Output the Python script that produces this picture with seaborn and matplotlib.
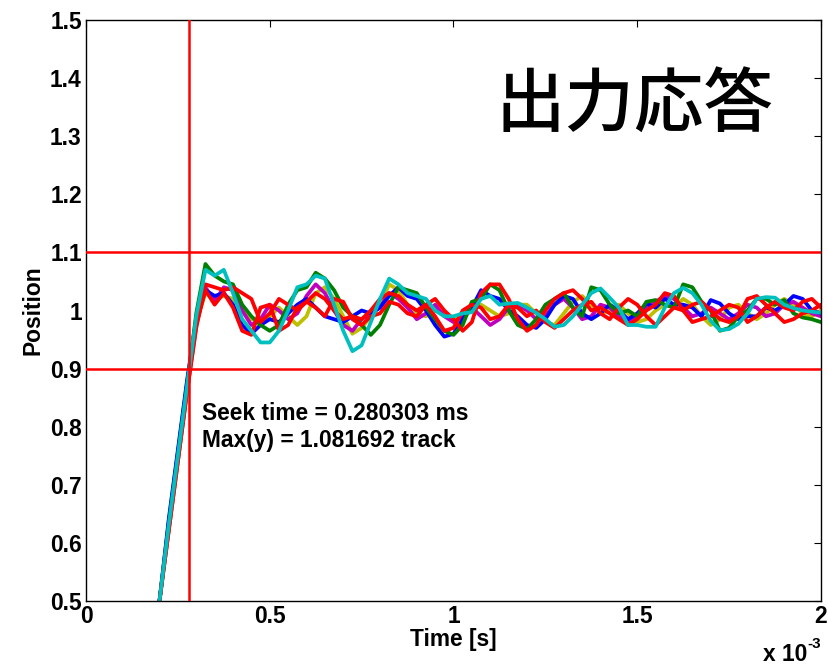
import numpy as np
import pandas as pd
import matplotlib
matplotlib.use("Agg")
import matplotlib.pyplot as plt
import seaborn as sns

# time grid in ms
t_ms = [round(0.2 + 0.025 * i, 3) for i in range(73)]

cyan_run = [0.50, 0.63, 0.75, 0.87, 0.99, 1.07, 1.06, 1.07, 1.03, 0.985,
            0.965, 0.945, 0.945, 0.965, 1.00, 1.04, 1.045, 1.06, 1.055, 1.01,
            0.965, 0.93, 0.94, 0.98, 1.02, 1.055, 1.045, 1.03, 1.025, 1.02,
            1.00, 0.99, 0.99, 0.995, 0.997, 1.02, 1.025, 1.01, 1.012, 1.013,
            1.005, 0.996, 0.985, 0.972, 0.975, 0.99, 1.01, 1.03, 1.038, 1.022,
            1.005, 0.975, 0.975, 0.972, 0.972, 1.005, 1.03, 1.039, 1.03, 1.01,
            0.982, 0.966, 0.968, 0.977, 0.995, 1.02, 1.023, 1.022, 1.01, 1.004,
            1.0, 0.998, 0.996]
green_run = [0.50, 0.63, 0.75, 0.87, 0.995, 1.08, 1.06, 1.05, 1.045, 1.01,
             0.99, 0.975, 0.965, 0.975, 1.01, 1.035, 1.04, 1.065, 1.055, 1.035,
             1.005, 0.99, 0.975, 0.958, 0.975, 1.01, 1.04, 1.035, 1.03, 1.005,
             0.985, 0.965, 0.958, 0.975, 1.015, 1.02, 1.045, 1.035, 1.0, 0.975,
             0.968, 0.985, 1.01, 1.02, 1.03, 1.005, 0.99, 1.04, 1.035, 1.01,
             0.995, 1.0, 0.99, 1.015, 1.018, 1.01, 1.005, 1.045, 1.04, 1.015,
             1.0, 0.965, 0.97, 0.99, 1.0, 1.02, 1.02, 1.01, 1.018, 0.995,
             0.988, 0.985, 0.98]
blue_run = [0.50, 0.64, 0.76, 0.88, 0.985, 1.035, 1.025, 1.03, 1.01, 0.975,
            0.96, 0.975, 0.985, 0.98, 0.995, 1.01, 1.02, 1.005, 0.99, 0.985,
            0.98, 0.99, 1.0, 0.995, 1.005, 1.025, 1.04, 1.025, 1.02, 1.0,
            0.975, 0.955, 0.96, 0.985, 1.005, 1.035, 1.025, 1.02, 1.0, 0.99,
            0.975, 0.97, 0.985, 1.01, 1.025, 1.02, 0.995, 0.985, 0.995, 1.01,
            1.0, 0.985, 0.995, 1.012, 1.005, 1.02, 1.01, 1.01, 1.005, 0.99,
            1.018, 1.012, 0.995, 0.985, 0.99, 0.99, 1.005, 1.0, 1.01, 1.025,
            1.02, 1.0, 0.995]
redA_run = [0.50, 0.62, 0.74, 0.86, 0.97, 1.045, 1.04, 1.035, 1.04, 1.03,
            1.02, 0.98, 0.995, 1.02, 1.01, 1.0, 1.015, 1.03, 1.02, 1.0,
            0.985, 0.99, 0.985, 1.0, 1.02, 1.03, 1.025, 1.01, 1.0, 1.01,
            1.02, 1.0, 0.985, 0.965, 0.98, 1.03, 1.045, 1.045, 1.02, 0.985,
            0.965, 0.975, 1.0, 1.02, 1.03, 1.035, 1.02, 1.0, 1.005, 0.995,
            0.985, 0.975, 0.985, 1.0, 1.01, 1.03, 1.025, 1.0, 0.98, 0.985,
            0.99, 1.0, 1.01, 1.005, 0.98, 0.99, 1.005, 1.015, 1.005, 1.0,
            1.015, 1.02, 1.005]
redB_run = [0.50, 0.62, 0.74, 0.86, 0.975, 1.035, 1.01, 1.03, 1.005, 0.965,
            0.958, 1.005, 1.01, 0.965, 0.975, 1.005, 1.015, 1.005, 0.99, 1.02,
            1.015, 0.985, 0.975, 0.99, 0.995, 1.015, 1.01, 0.995, 0.99, 1.01,
            0.99, 0.965, 0.97, 1.0, 1.01, 1.005, 0.985, 0.99, 1.01, 1.005,
            0.99, 1.0, 0.98, 0.97, 0.985, 1.0, 1.01, 1.015, 0.995, 0.985,
            1.005, 1.02, 1.01, 0.99, 0.975, 0.99, 1.005, 1.0, 1.01, 1.015,
            1.0, 0.985, 0.98, 0.99, 1.02, 1.025, 1.01, 0.995, 0.98, 0.985,
            0.995, 1.0, 1.01]
magenta_run = [0.50, 0.635, 0.755, 0.875, 0.985, 1.04, 1.015, 1.04, 1.035, 1.0,
               0.975, 0.985, 1.01, 1.0, 0.985, 0.995, 1.025, 1.045, 1.03, 1.0,
               0.975, 0.965, 0.985, 0.995, 1.005, 1.03, 1.02, 1.005, 0.985, 0.995,
               1.01, 0.99, 0.98, 0.99, 1.005, 0.99, 0.975, 0.985, 1.005, 1.01,
               1.0, 0.985, 0.99, 1.01, 1.02, 1.005, 0.985, 0.99, 1.01, 1.005,
               0.99, 0.98, 0.99, 1.005, 1.015, 1.025, 1.02, 1.005, 0.99, 0.995,
               1.005, 0.995, 0.985, 0.995, 1.01, 1.005, 0.99, 0.995, 1.01, 1.015,
               1.005, 0.995, 0.99]
olive_run = [0.50, 0.63, 0.75, 0.87, 0.98, 1.03, 1.02, 1.025, 1.02, 1.0,
             0.985, 0.98, 0.99, 1.005, 0.99, 0.975, 0.99, 1.03, 1.04, 1.02,
             0.99, 0.96, 0.97, 0.99, 1.01, 1.045, 1.035, 1.01, 0.995, 0.99,
             1.0, 0.995, 0.985, 0.99, 1.005, 1.01, 1.0, 0.99, 0.995, 1.01,
             1.01, 0.995, 0.98, 0.975, 0.995, 1.015, 1.025, 1.01, 0.995, 1.0,
             1.01, 0.995, 0.98, 0.985, 1.0, 1.01, 1.005, 1.02, 1.01, 0.99,
             0.975, 0.985, 1.005, 1.01, 0.995, 0.985, 0.995, 1.01, 1.02, 1.01,
             0.995, 0.99, 1.0]

run_names = ["olive", "magenta", "blue", "green", "redB", "redA", "cyan"]
run_values = [olive_run, magenta_run, blue_run, green_run, redB_run, redA_run, cyan_run]
run_colors = {"olive": (0.75, 0.75, 0.0), "magenta": (0.75, 0.0, 0.75),
              "blue": (0.0, 0.0, 1.0), "green": (0.0, 0.5, 0.0),
              "redB": (1.0, 0.0, 0.0), "redA": (1.0, 0.0, 0.0),
              "cyan": (0.0, 0.75, 0.75)}

seek_time_ms = 0.280303
max_y = 1.081692
band_hi, band_lo = 1.1, 0.9

x_ticks = [0, 0.5, 1, 1.5, 2]
x_tick_labels = ["0", "0.5", "1", "1.5", "2"]
y_ticks = [0.5, 0.6, 0.7, 0.8, 0.9, 1.0, 1.1, 1.2, 1.3, 1.4, 1.5]
y_tick_labels = ["0.5", "0.6", "0.7", "0.8", "0.9", "1", "1.1", "1.2", "1.3", "1.4", "1.5"]

rows = []
for name, vals in zip(run_names, run_values):
    for t, v in zip(t_ms, vals):
        rows.append((name, t, v))
df = pd.DataFrame(rows, columns=["run", "t", "pos"])

sns.set_style("white")
plt.rcParams["font.family"] = ["Liberation Sans", "Noto Sans CJK JP", "DejaVu Sans"]
plt.rcParams["text.color"] = "black"
plt.rcParams["axes.labelcolor"] = "black"

FS = 16.4

fig = plt.figure(figsize=(8.29, 6.65), dpi=100)
ax = fig.add_axes([86 / 829, 1 - 601 / 665, (821 - 86) / 829, (601 - 20) / 665])

sns.lineplot(data=df, x="t", y="pos", hue="run", hue_order=run_names,
             palette=run_colors, linewidth=2.7, legend=False, ax=ax,
             sort=False, estimator=None)

ax.axvline(seek_time_ms, color=(1, 0, 0), lw=1.8, zorder=5)
ax.axhline(band_hi, color=(1, 0, 0), lw=1.8, zorder=5)
ax.axhline(band_lo, color=(1, 0, 0), lw=1.8, zorder=5)

ax.set_xlim(0, 2)
ax.set_ylim(0.5, 1.5)
ax.set_xticks(x_ticks)
ax.set_xticklabels(x_tick_labels)
ax.set_yticks(y_ticks)
ax.set_yticklabels(y_tick_labels)
ax.tick_params(direction="in", length=5, width=0.8, top=True, right=True,
               labelsize=FS, pad=3, colors="black")
for lab in ax.get_xticklabels() + ax.get_yticklabels():
    lab.set_fontweight("bold")
for sp in ax.spines.values():
    sp.set_color("black")
    sp.set_linewidth(1.0)

ax.set_xlabel("Time [s]", fontsize=FS, fontweight="bold", labelpad=0, color="black")
ax.set_ylabel("Position", fontsize=FS, fontweight="bold", labelpad=4, color="black")

ax.text(0.316, 0.812, f"Seek time = {seek_time_ms:.6f} ms", fontsize=FS,
        fontweight="bold", ha="left", va="baseline", color="black")
ax.text(0.316, 0.765, f"Max(y) = {max_y:.6f} track", fontsize=FS,
        fontweight="bold", ha="left", va="baseline", color="black")
ax.text(0.746, 0.852, "出力応答", transform=ax.transAxes, fontsize=50,
        family=["Noto Sans CJK JP"], fontweight="medium", ha="center", va="center",
        color="black")

fig.text(763 / 829, 1 - 661 / 665, "x 10", fontsize=FS, fontweight="bold",
         ha="left", va="baseline", color="black")
fig.text(807 / 829, 1 - 648 / 665, "-3", fontsize=11, fontweight="bold",
         ha="left", va="baseline", color="black")

fig.savefig("out.png", dpi=100, facecolor="white")
